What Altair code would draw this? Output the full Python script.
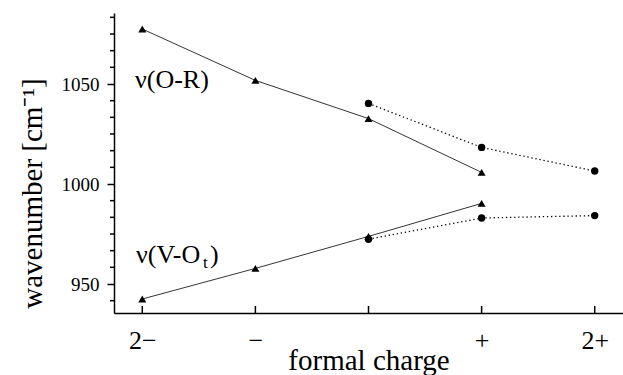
import altair as alt
import pandas as pd

# ---- data ----
charge_tri = [-2, -1, 0, 1]
charge_circ = [0, 1, 2]
or_tri = [1077.5, 1051.8, 1032.7, 1005.8]
or_circ = [1040.3, 1018.3, 1006.5]
vo_tri = [942.5, 957.8, 973.8, 990.3]
vo_circ = [972.4, 983.0, 984.2]

x_tick_values = [-2, -1, 0, 1, 2]
x_tick_labels = ["2\u2212", "\u2212", "", "+", "2+"]
y_major = [950, 1000, 1050]
y_minor = [941.67, 958.33, 966.67, 975, 983.33, 991.67, 1008.33,
           1016.67, 1025, 1033.33, 1041.67, 1058.33, 1066.67, 1075, 1083.33]

label_or = "\u03bd(O-R)"
label_vo = "\u03bd(V-O"
label_vo_sub = "t"
label_vo_close = ")"

tri = pd.DataFrame({
    "charge": charge_tri + charge_tri,
    "value": or_tri + vo_tri,
    "series": ["O-R"] * len(or_tri) + ["V-Ot"] * len(vo_tri),
})
circ = pd.DataFrame({
    "charge": charge_circ + charge_circ,
    "value": or_circ + vo_circ,
    "series": ["O-R"] * len(or_circ) + ["V-Ot"] * len(vo_circ),
})
yminor_df = pd.DataFrame({"value": y_minor})
xticks_df = pd.DataFrame({"charge": x_tick_values})

FONT = "Liberation Serif"
label_expr = " : ".join(
    f"datum.value == {v} ? '{l}'" for v, l in zip(x_tick_values, x_tick_labels)
) + " : ''"

x_scale = alt.Scale(domain=[-2.25, 2.25], nice=False, zero=False)
y_scale = alt.Scale(domain=[935.5, 1085.5], nice=False, zero=False)

x_main = alt.Axis(
    values=x_tick_values, labelExpr=label_expr, orient="bottom",
    ticks=False, domain=True, domainColor="black", domainWidth=1.5,
    labelFont=FONT, labelFontSize=26, labelColor="black", labelPadding=14,
    labelFlush=False, labelOverlap=False, grid=False,
    title="formal charge", titleFont=FONT, titleFontSize=29,
    titleFontWeight="normal", titleColor="black",
    titleBaseline="alphabetic", titleY=56,
)
y_main = alt.Axis(
    values=y_major, orient="left", format="d", ticks=True, tickSize=7,
    tickColor="black", tickWidth=1.5, domain=True, domainColor="black",
    domainWidth=1.5, labelFont=FONT, labelFontSize=19, labelColor="black",
    labelPadding=8, grid=False, title="wavenumber [cm\u207b\u00b9]",
    titleFont=FONT, titleFontSize=29, titleFontWeight="normal",
    titleColor="black", titleX=-82, titleY=180, titleBaseline="middle",
    titleAlign="center",
)

tri_line = alt.Chart(tri).mark_line(color="black", strokeWidth=0.8).encode(
    x=alt.X("charge:Q", scale=x_scale, axis=x_main),
    y=alt.Y("value:Q", scale=y_scale, axis=y_main),
    detail="series:N",
)
circ_line = alt.Chart(circ).mark_line(
    color="black", strokeWidth=1.3, strokeDash=[1.3, 2.8]
).encode(
    x=alt.X("charge:Q", scale=x_scale),
    y=alt.Y("value:Q", scale=y_scale),
    detail="series:N",
)
tri_pts = alt.Chart(tri).mark_point(
    shape="triangle-up", filled=True, size=64, color="black", opacity=1
).encode(
    x=alt.X("charge:Q", scale=x_scale),
    y=alt.Y("value:Q", scale=y_scale),
)
circ_pts = alt.Chart(circ).mark_point(
    shape="circle", filled=True, size=55, color="black", opacity=1
).encode(
    x=alt.X("charge:Q", scale=x_scale),
    y=alt.Y("value:Q", scale=y_scale),
)
# minor ticks on the y axis (outward) and inward ticks on the x axis
y_minor_ticks = alt.Chart(yminor_df).mark_rule(
    color="black", strokeWidth=1.5
).encode(
    y=alt.Y("value:Q", scale=y_scale),
    x=alt.value(-4), x2=alt.value(0),
)
x_in_ticks = alt.Chart(xticks_df).mark_rule(
    color="black", strokeWidth=1.5
).encode(
    x=alt.X("charge:Q", scale=x_scale),
    y=alt.value(293), y2=alt.value(300),
)


def text_layer(txt, px, py, size):
    return alt.Chart(pd.DataFrame({"t": [txt]})).mark_text(
        align="left", baseline="alphabetic", font=FONT, fontSize=size,
        color="black"
    ).encode(x=alt.value(px), y=alt.value(py), text="t:N")


chart = alt.layer(
    tri_line, circ_line, tri_pts, circ_pts, y_minor_ticks, x_in_ticks,
    text_layer(label_or, 21, 75, 26),
    text_layer(label_vo, 22, 250, 26),
    text_layer(label_vo_sub, 89, 255, 17),
    text_layer(label_vo_close, 96, 250, 26),
).properties(
    width=509, height=300,
    padding={"left": 114, "top": 13, "right": 0, "bottom": 62},
    autosize=alt.AutoSizeParams(type="none"),
    background="white",
).configure_view(stroke=None).configure_axis(
    labelFont=FONT, titleFont=FONT
)

chart.save("out.html", embed_options={"renderer": "svg", "actions": False})
